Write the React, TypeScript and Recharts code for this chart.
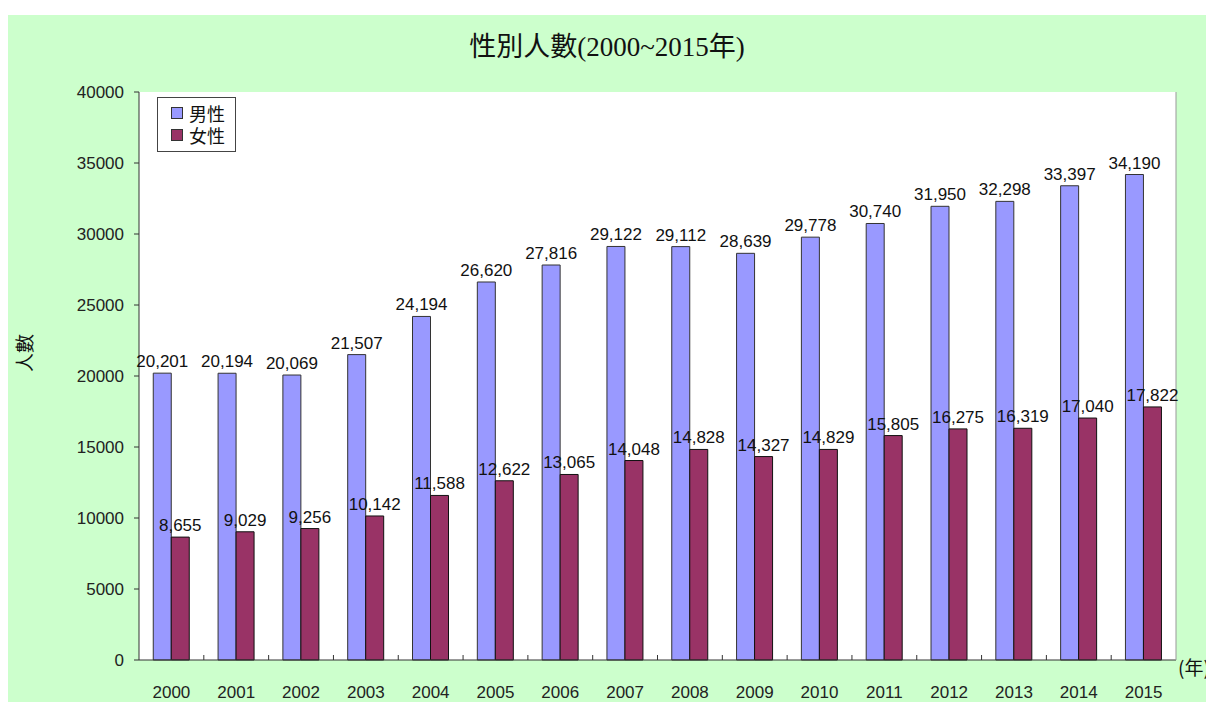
import React from 'react';
import { BarChart, Bar, XAxis, YAxis, LabelList, CartesianGrid } from 'recharts';

const years = ['2000','2001','2002','2003','2004','2005','2006','2007','2008','2009','2010','2011','2012','2013','2014','2015'];
const maleValues = [20201, 20194, 20069, 21507, 24194, 26620, 27816, 29122, 29112, 28639, 29778, 30740, 31950, 32298, 33397, 34190];
const femaleValues = [8655, 9029, 9256, 10142, 11588, 12622, 13065, 14048, 14828, 14327, 14829, 15805, 16275, 16319, 17040, 17822];
const yTicks = [0, 5000, 10000, 15000, 20000, 25000, 30000, 35000, 40000];
const seriesNames = ['男性', '女性'];
const title = '性別人數(2000~2015年)';
const yLabel = '人數';
const xUnit = '(年)';

const data = years.map((y, i) => ({ year: y, male: maleValues[i], female: femaleValues[i] }));

const MALE = '#9999FF';
const FEMALE = '#993366';
const FONT = '"Liberation Sans", "Noto Sans CJK TC", sans-serif';
const HALF_BAND = 1037 / 16 / 2;

const fmt = (v: any) => Number(v).toLocaleString('en-US');

const XTick = (props: any) => {
  const { x, y, payload, index } = props;
  return (
    <g>
      <text x={x} y={y} dy={30} textAnchor="middle" fontSize={17} fontFamily={FONT} fill="#222">
        {payload.value}
      </text>
      {index < years.length - 1 && (
        <line x1={x + HALF_BAND} x2={x + HALF_BAND} y1={645} y2={640} stroke="#333" strokeWidth={1} />
      )}
    </g>
  );
};

const LegendBox = () => (
  <div
    style={{
      position: 'absolute',
      left: 149,
      top: 82,
      width: 79,
      height: 55,
      border: '1px solid #444',
      background: '#fff',
      boxSizing: 'border-box',
      padding: '4px 0 0 13px',
      fontFamily: '"Noto Sans CJK TC", sans-serif',
      fontSize: 18,
      lineHeight: '22px',
      color: '#111',
    }}
  >
    {[MALE, FEMALE].map((c, i) => (
      <div key={i} style={{ display: 'flex', alignItems: 'center', height: 22 }}>
        <span
          style={{
            display: 'inline-block',
            width: 10,
            height: 10,
            background: c,
            border: '1px solid #333',
            marginRight: 6,
            flexShrink: 0,
          }}
        />
        <span>{seriesNames[i]}</span>
      </div>
    ))}
  </div>
);

export default function App() {
  return (
    <div style={{ position: 'fixed', left: 0, top: 0, width: 1206, height: 702, background: '#fff', overflow: 'hidden' }}>
      <div style={{ position: 'absolute', top: 15, left: 8, width: 1198, height: 687, background: '#CCFFCC', overflow: 'hidden' }}>
        <BarChart
          width={1198}
          height={687}
          data={data}
          margin={{ top: 77, right: 29, bottom: 0, left: 0 }}
          barCategoryGap="22%"
          barGap={0}
        >
          <CartesianGrid horizontal={false} vertical={false} fill="#FFFFFF" xAxisId="b" yAxisId="l" />
          <XAxis
            dataKey="year"
            xAxisId="b"
            height={42}
            axisLine={{ stroke: '#333' }}
            tickLine={false}
            tick={<XTick />}
            interval={0}
          />
          <XAxis xAxisId="t" orientation="top" dataKey="year" height={0} tick={false} tickLine={false} axisLine={{ stroke: '#999' }} />
          <YAxis
            yAxisId="l"
            width={131}
            domain={[0, 40000]}
            ticks={yTicks}
            interval={0}
            axisLine={{ stroke: '#333' }}
            tickLine={{ stroke: '#333' }}
            tickSize={5}
            tickMargin={10}
            tick={{ fontSize: 17, fontFamily: FONT, fill: '#222' }}
          />
          <YAxis yAxisId="r" orientation="right" width={1} domain={[0, 40000]} tick={false} tickLine={false} axisLine={{ stroke: '#999' }} />
          <Bar dataKey="male" name={seriesNames[0]} xAxisId="b" yAxisId="l" fill={MALE} stroke="#333" strokeWidth={1} isAnimationActive={false}>
            <LabelList dataKey="male" position="top" offset={6} formatter={fmt} style={{ fontSize: 17, fontFamily: FONT, fill: '#111' }} />
          </Bar>
          <Bar dataKey="female" name={seriesNames[1]} xAxisId="b" yAxisId="l" fill={FEMALE} stroke="#111" strokeWidth={1} isAnimationActive={false}>
            <LabelList dataKey="female" position="top" offset={6} formatter={fmt} style={{ fontSize: 17, fontFamily: FONT, fill: '#111' }} />
          </Bar>
        </BarChart>
        <LegendBox />
        <div
          style={{
            position: 'absolute',
            left: 0,
            width: 1198,
            top: 10,
            textAlign: 'center',
            fontFamily: '"Liberation Serif", "Noto Sans CJK TC", serif',
            fontSize: 27,
            color: '#111',
          }}
        >
          {title}
        </div>
        <div
          style={{
            position: 'absolute',
            left: 16 - 40,
            top: 338 - 12,
            width: 80,
            height: 24,
            lineHeight: '24px',
            textAlign: 'center',
            transform: 'rotate(-90deg)',
            fontFamily: '"Noto Sans CJK TC", sans-serif',
            fontSize: 19,
            color: '#111',
          }}
        >
          {yLabel}
        </div>
        <div
          style={{
            position: 'absolute',
            left: 1170,
            top: 638,
            fontFamily: '"Noto Sans CJK TC", sans-serif',
            fontSize: 19,
            color: '#111',
            whiteSpace: 'nowrap',
          }}
        >
          {xUnit}
        </div>
      </div>
    </div>
  );
}
